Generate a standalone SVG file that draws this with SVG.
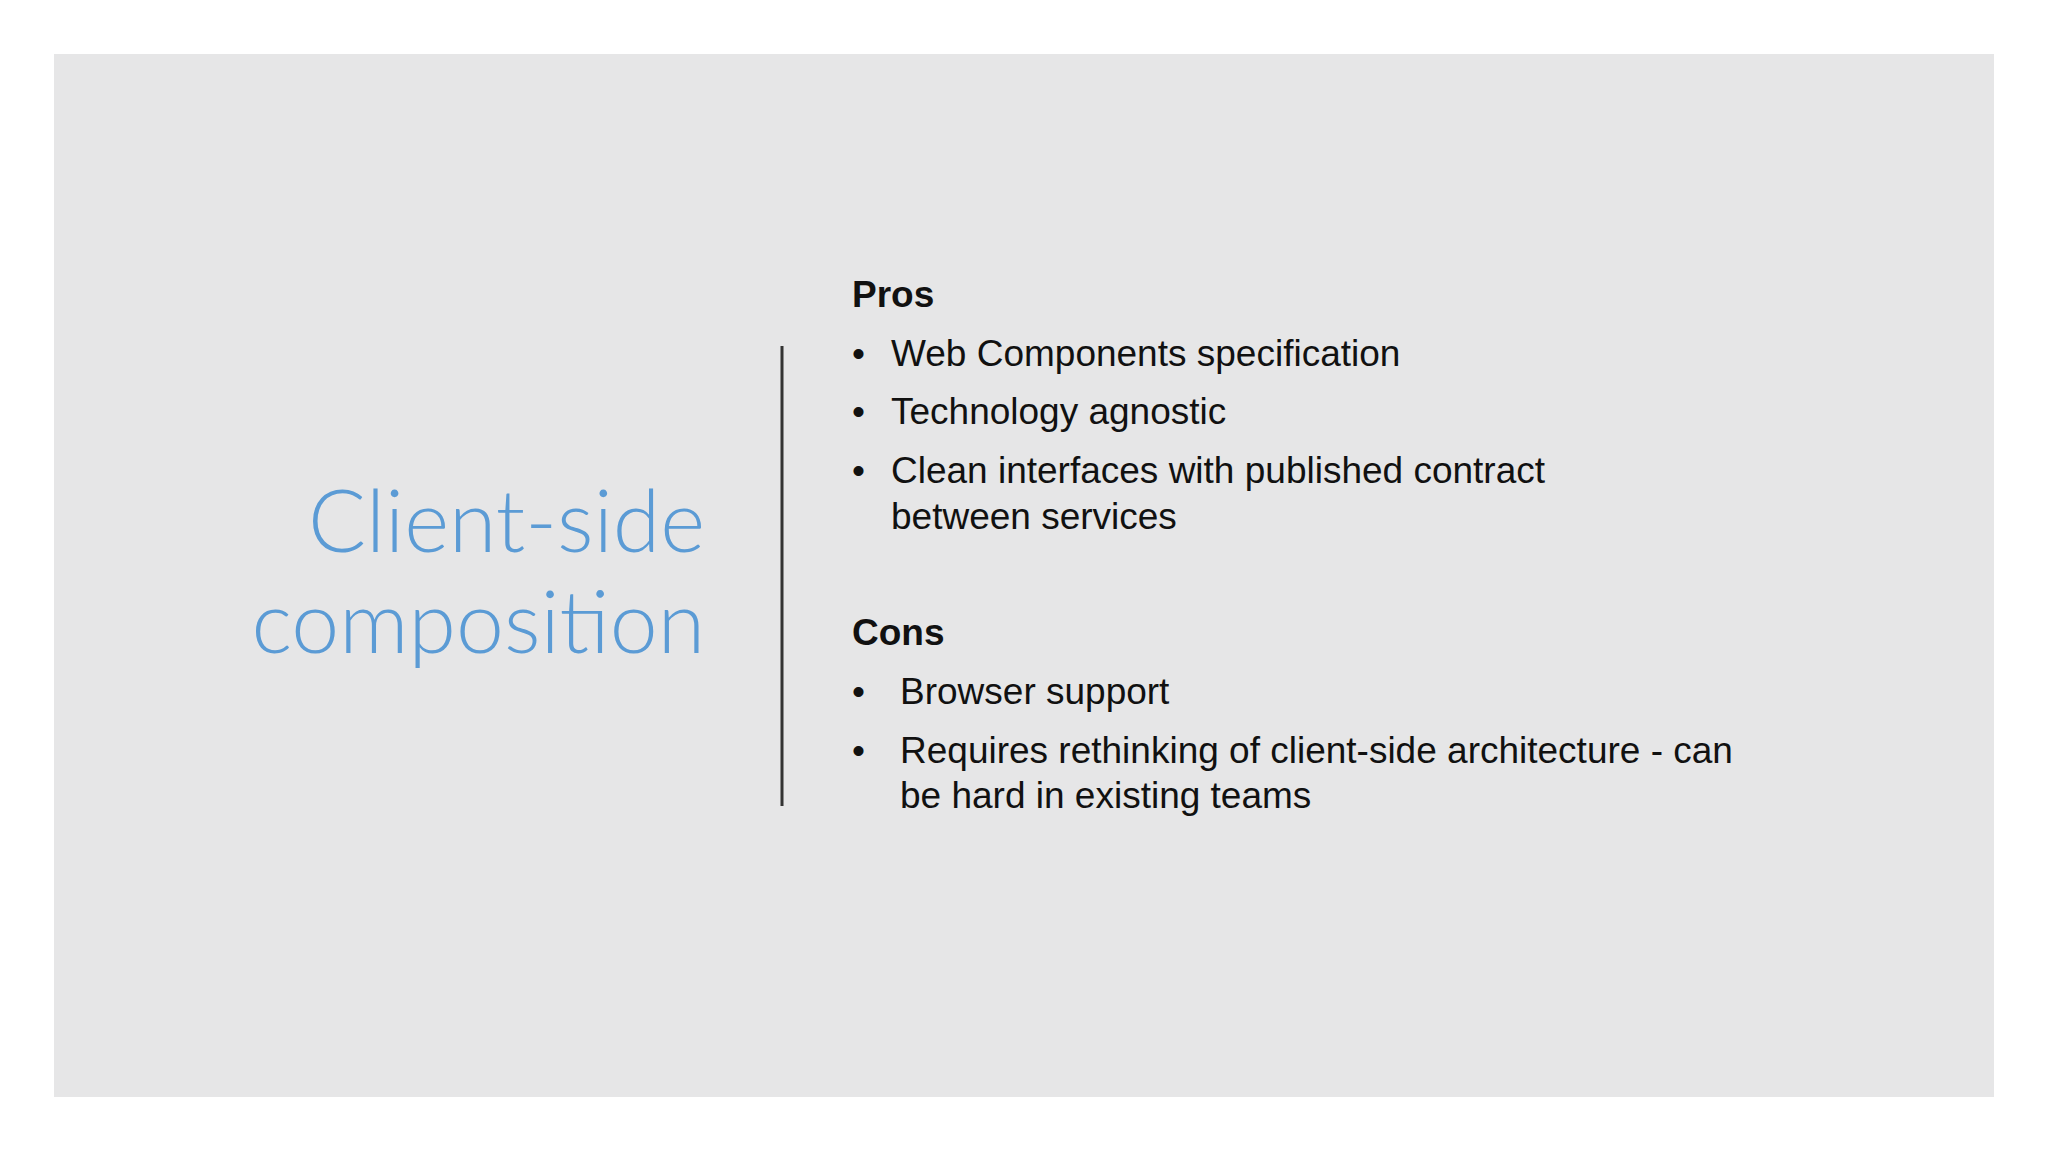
<svg xmlns="http://www.w3.org/2000/svg" width="2048" height="1152" viewBox="0 0 2048 1152">
<style>
.t{font-family:"Lato","Liberation Sans",sans-serif;font-weight:300;font-size:86px;fill:#5B9BD5}
.b{font-family:"Liberation Sans",sans-serif;font-size:37px;fill:#111}
.h{font-family:"Liberation Sans",sans-serif;font-size:37px;font-weight:bold;fill:#111}
</style>
<rect width="2048" height="1152" fill="#fff"/>
<rect x="54" y="54" width="1940" height="1043" fill="#E6E6E7"/>
<g id="title">
<text class="t" x="705" y="552" text-anchor="end">Client-side</text>
<text class="t" x="705" y="653" text-anchor="end">composition</text>
</g>
<g id="divider"><line x1="782" y1="346" x2="782" y2="806" stroke="#333" stroke-width="3"/></g>
<g id="pros">
<text class="h" x="852" y="307">Pros</text>
<text class="b" x="852" y="366">•</text><text class="b" x="891" y="366">Web Components specification</text>
<text class="b" x="852" y="424">•</text><text class="b" x="891" y="424">Technology agnostic</text>
<text class="b" x="852" y="483">•</text><text class="b" x="891" y="483">Clean interfaces with published contract</text>
<text class="b" x="891" y="529">between services</text>
</g>
<g id="cons">
<text class="h" x="852" y="645">Cons</text>
<text class="b" x="852" y="704">•</text><text class="b" x="900" y="704">Browser support</text>
<text class="b" x="852" y="763">•</text><text class="b" x="900" y="763">Requires rethinking of client-side architecture - can</text>
<text class="b" x="900" y="808">be hard in existing teams</text>
</g>
</svg>
